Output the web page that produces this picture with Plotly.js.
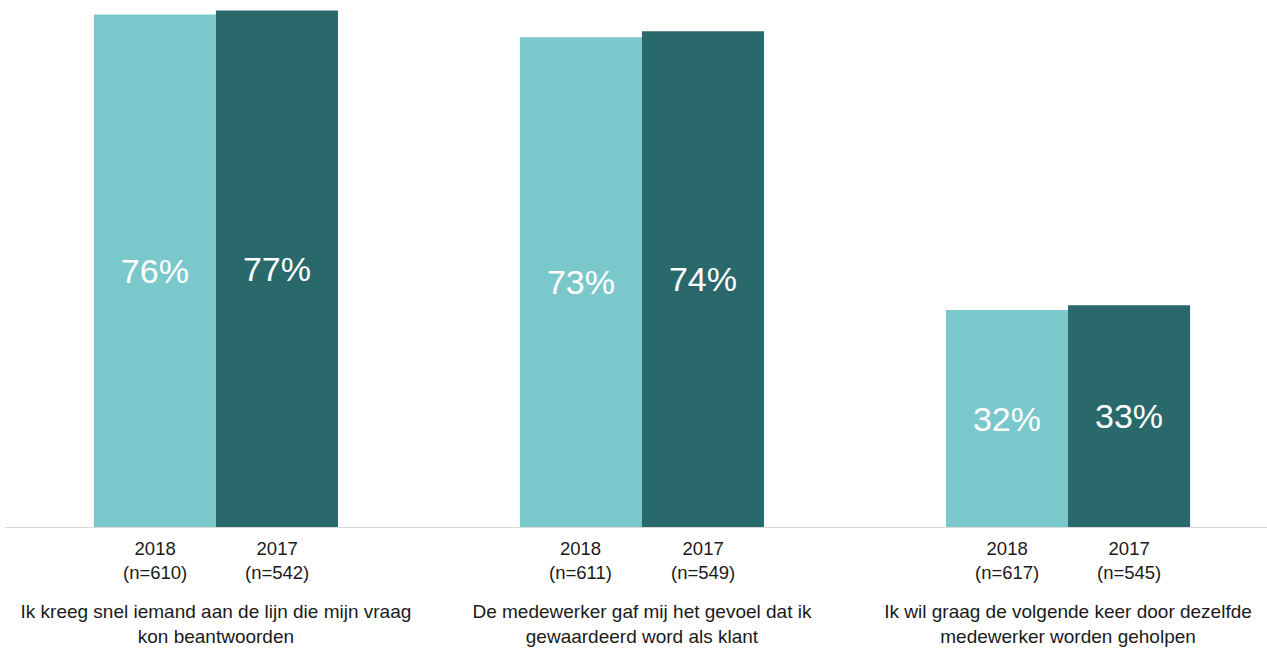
<!DOCTYPE html>
<html>
<head>
<meta charset="utf-8">
<script src="https://cdn.plot.ly/plotly-3.0.1.min.js"></script>
<style>html,body{margin:0;padding:0;background:#fff;}#chart{width:1267px;height:648px;}</style>
</head>
<body>
<div id="chart"></div>
<script>
const categories = ["q1", "q2", "q3"];
const categoryLabels = [
  "Ik kreeg snel iemand aan de lijn die mijn vraag<br>kon beantwoorden",
  "De medewerker gaf mij het gevoel dat ik<br>gewaardeerd word als klant",
  "Ik wil graag de volgende keer door dezelfde<br>medewerker worden geholpen"
];
const years = ["2018", "2017"];
const values2018 = [76.3, 72.9, 32.3];
const values2017 = [76.9, 73.8, 33.0];
const n2018 = [610, 611, 617];
const n2017 = [542, 549, 545];

const colors = ["#7AC8CC", "#29696B"];
const font = "Arial, 'Liberation Sans', sans-serif";

function barTrace(vals, name, color) {
  return {
    type: "bar", x: categories, y: vals, name: name,
    marker: {color: color, line: {width: 0}},
    text: vals.map(v => Math.round(v) + "%"),
    textposition: "inside", insidetextanchor: "middle",
    textfont: {color: "#ffffff", size: 34, family: font},
    hoverinfo: "skip"
  };
}

const data = [
  barTrace(values2018, years[0], colors[0]),
  barTrace(values2017, years[1], colors[1])
];

const annotations = [];
categories.forEach((c, i) => {
  [[years[0], n2018[i], -61], [years[1], n2017[i], 61]].forEach(([yr, n, dx]) => {
    annotations.push({
      x: c, xref: "x", y: 0, yref: "y", yanchor: "top", xanchor: "center",
      xshift: dx, yshift: -9, showarrow: false,
      text: yr + "<br>(n=" + n + ")",
      font: {size: 18.5, color: "#1a1a1a", family: font}
    });
  });
});

const layout = {
  width: 1267, height: 648,
  margin: {l: 5, r: 0, t: 3, b: 121},
  paper_bgcolor: "#ffffff", plot_bgcolor: "#ffffff",
  barmode: "group", bargap: 0.427, bargroupgap: 0,
  showlegend: false,
  xaxis: {
    type: "category", range: [-0.495, 2.467],
    tickvals: categories, ticktext: categoryLabels,
    showline: true, linecolor: "#d9d9d9", linewidth: 1,
    ticks: "", showgrid: false, zeroline: false,
    ticklabelstandoff: 67,
    tickfont: {size: 19, color: "#1a1a1a", family: font}
  },
  yaxis: {
    range: [0, 78], visible: false, showgrid: false, zeroline: false
  },
  annotations: annotations
};

Plotly.newPlot("chart", data, layout, {displayModeBar: false, staticPlot: true});
</script>
</body>
</html>
